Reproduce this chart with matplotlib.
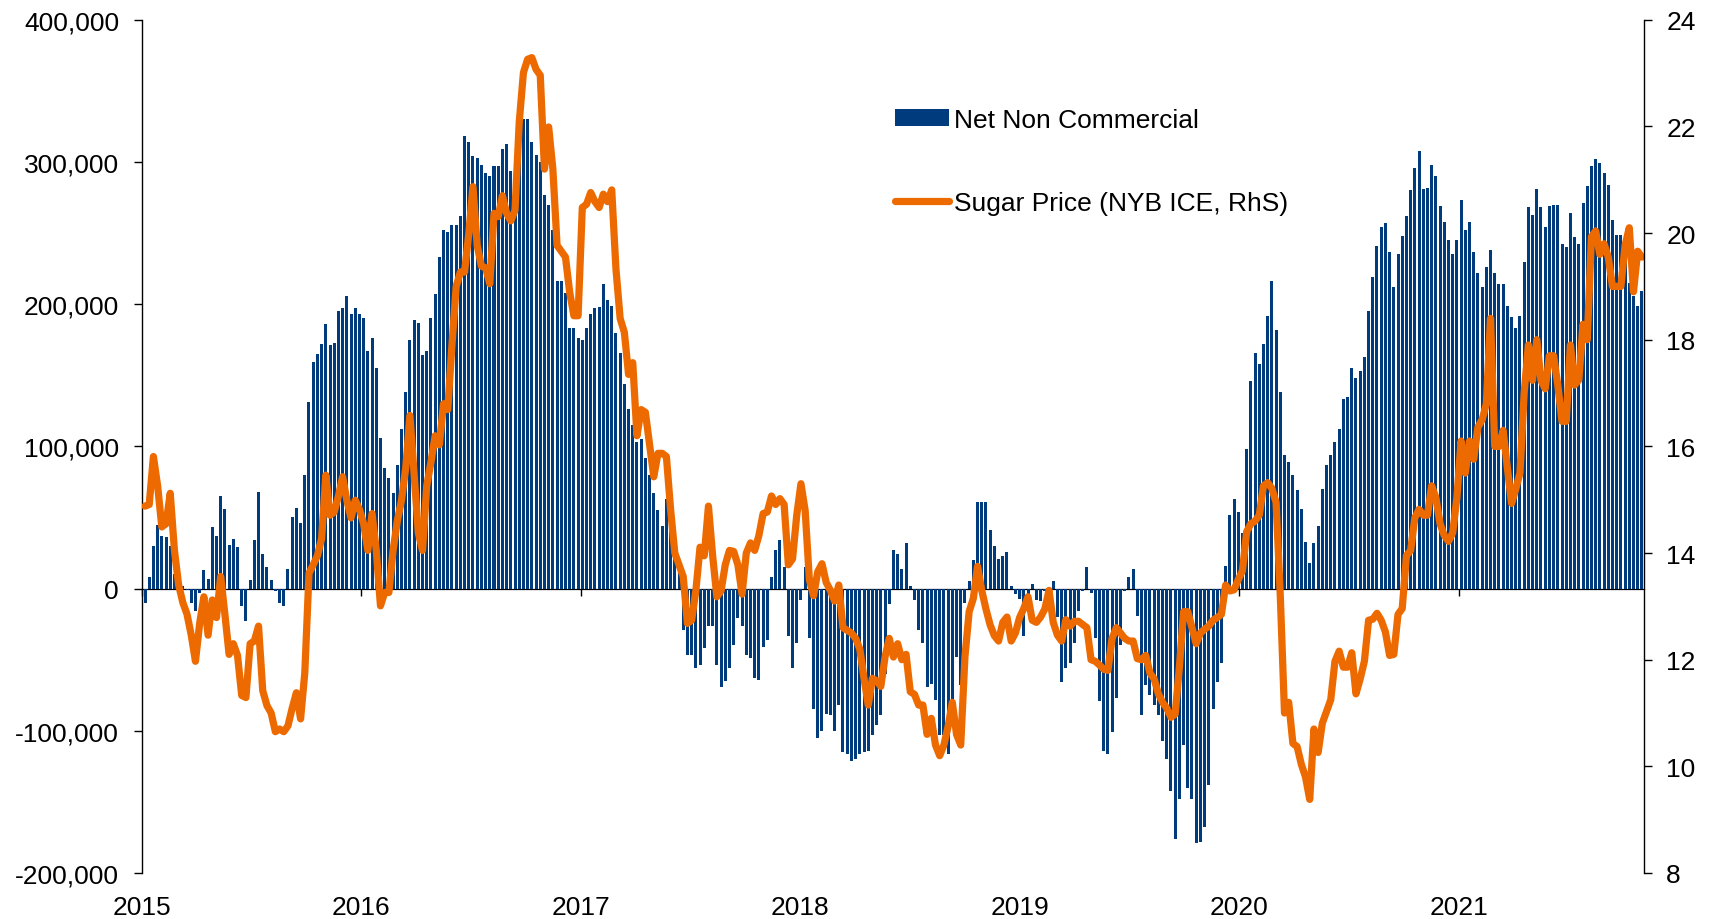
import pandas as pd
import matplotlib
matplotlib.use("Agg")
import matplotlib.pyplot as plt
from matplotlib.ticker import FuncFormatter

# ------------------------------
# Data (weekly)
# ------------------------------
first_week = "2015-01-06"

# net non commercial positions, thousands of contracts
net_2015 = [-10, 8, 30, 45, 37, 36, 30, 10, 3, 2, -1, -10, -16, -3, 13, 7, 43, 37, 65, 56,
            31, 35, 29, -12, -23, 6, 34, 68, 24, 15, 6, -2, -10, -12, 14, 50, 57, 46, 80, 131,
            159, 165, 172, 186, 171, 173, 195, 197, 206, 193, 197, 193]
net_2016 = [190, 167, 176, 155, 106, 85, 78, 67, 87, 112, 138, 175, 189, 187, 164, 167, 190, 207,
            233, 252, 251, 256, 256, 262, 318, 314, 304, 303, 298, 292, 290, 297, 297, 309, 313,
            294, 300, 320, 330, 330, 314, 305, 300, 277, 270, 252, 216, 216, 208]
net_2017 = [183, 183, 176, 175, 183, 193, 197, 198, 214, 203, 199, 180, 166, 144, 126, 115, 103,
            105, 92, 80, 67, 55, 44, 63, 41, 23, 11, -29, -47, -47, -56, -54, -42, -26, -26, -54,
            -69, -65, -56, -40, -21, -26, -47, -49, -63, -64, -41, -36, 8, 27, 34, 15, -33, -56, -38]
net_2018 = [-8, 15, -35, -85, -105, -100, -88, -89, -100, -82, -115, -116, -121, -120, -116, -115,
            -114, -103, -96, -89, -60, -11, 27, 24, 14, 32, 2, -8, -29, -38, -69, -67, -78, -103,
            -103, -116, -79, -48, -68, -10, 5, 20, 61, 61, 61, 41, 30, 21, 23, 26, 2, -4]
net_2019 = [-7, -33, -7, 3, -8, -9, -2, 0, 5, -20, -66, -56, -52, -38, -16, -2, 15, -3, -35, -79,
            -114, -116, -101, -77, -40, -2, 8, 14, -19, -89, -68, -75, -82, -89, -107, -120, -142,
            -176, -148, -110, -140, -148, -179, -178, -168, -138, -85, -66, -52, 16, 52, 63, 54]
net_2020 = [39, 98, 146, 166, 158, 172, 192, 216, 182, 138, 94, 89, 80, 69, 56, 33, 18, 32, 44, 70,
            87, 94, 103, 112, 133, 135, 155, 148, 153, 163, 195, 219, 241, 254, 257, 237, 212, 235,
            248, 262, 280, 296, 308, 281, 282, 298, 290, 269, 258, 245, 235, 245]
net_2021 = [273, 252, 258, 237, 222, 212, 226, 238, 222, 214, 214, 199, 191, 183, 192, 230, 268,
            263, 281, 268, 254, 269, 270, 270, 242, 240, 264, 247, 242, 271, 283, 297, 302, 299,
            292, 284, 259, 249, 249, 240, 215, 206, 199, 209]

# sugar price, US cents/lb
sugar_2015 = [14.88, 14.91, 15.81, 15.26, 14.49, 14.55, 15.12, 14.05, 13.40, 13.07, 12.85, 12.46,
              11.97, 12.68, 13.18, 12.46, 13.12, 12.79, 13.56, 12.85, 12.10, 12.30, 12.08, 11.33,
              11.29, 12.30, 12.35, 12.63, 11.42, 11.14, 11.00, 10.65, 10.70, 10.65, 10.76, 11.09,
              11.38, 10.89, 11.75, 13.62, 13.78, 13.95, 14.27, 15.46, 14.71, 14.77, 15.07, 15.43,
              14.99, 14.66, 14.99, 14.82]
sugar_2016 = [14.55, 14.05, 14.74, 14.05, 13.01, 13.26, 13.26, 14.05, 14.60, 14.99, 15.59, 16.58,
              15.48, 14.38, 14.05, 15.26, 15.70, 16.20, 16.03, 16.80, 16.69, 17.90, 19.00, 19.27,
              19.27, 19.99, 20.87, 19.77, 19.38, 19.35, 19.05, 20.37, 20.31, 20.70, 20.37, 20.23,
              20.43, 22.08, 23.01, 23.26, 23.29, 23.07, 22.96, 21.20, 21.99, 21.20, 19.77, 19.66,
              19.55]
sugar_2017 = [18.89, 18.45, 18.45, 20.48, 20.54, 20.76, 20.59, 20.48, 20.73, 20.59, 20.81, 19.33,
              18.40, 18.14, 17.35, 17.57, 16.20, 16.69, 16.64, 16.03, 15.43, 15.87, 15.87, 15.81,
              14.82, 14.00, 13.78, 13.56, 12.68, 12.74, 13.29, 14.11, 13.95, 14.88, 13.95, 13.18,
              13.29, 13.78, 14.05, 14.03, 13.78, 13.23, 14.00, 14.19, 14.05, 14.33, 14.74, 14.77,
              15.07, 14.91, 15.02, 14.91, 13.78, 13.89, 14.71]
sugar_2018 = [15.30, 14.80, 13.50, 13.20, 13.65, 13.80, 13.45, 13.30, 13.10, 13.40, 12.60, 12.55,
              12.50, 12.40, 12.20, 11.65, 11.15, 11.65, 11.60, 11.50, 12.05, 12.40, 12.05, 12.30,
              12.00, 12.10, 11.40, 11.35, 11.15, 11.15, 10.60, 10.90, 10.40, 10.20, 10.40, 10.75,
              11.20, 10.60, 10.40, 12.05, 12.90, 13.15, 13.75, 13.30, 12.95, 12.65, 12.45, 12.35,
              12.70, 12.80, 12.35, 12.50]
sugar_2019 = [12.79, 12.96, 13.18, 12.74, 12.70, 12.80, 12.95, 13.30, 12.70, 12.46, 12.35, 12.75,
              12.63, 12.72, 12.72, 12.66, 12.60, 12.00, 11.97, 11.90, 11.82, 11.80, 12.40, 12.60,
              12.50, 12.40, 12.35, 12.35, 12.02, 12.00, 12.08, 11.75, 11.64, 11.36, 11.20, 11.09,
              10.92, 10.98, 11.86, 12.90, 12.90, 12.60, 12.30, 12.50, 12.57, 12.63, 12.74, 12.79,
              12.85, 13.40, 13.29, 13.31, 13.50]
sugar_2020 = [13.67, 14.40, 14.55, 14.60, 14.71, 15.26, 15.32, 15.21, 14.95, 13.20, 11.00, 11.20,
              10.43, 10.37, 10.04, 9.80, 9.38, 10.70, 10.26, 10.81, 11.03, 11.25, 11.97, 12.16,
              11.86, 11.86, 12.13, 11.36, 11.64, 11.97, 12.74, 12.76, 12.87, 12.74, 12.52, 12.08,
              12.10, 12.85, 12.96, 13.95, 14.05, 14.66, 14.82, 14.71, 14.71, 15.26, 15.04, 14.55,
              14.33, 14.22, 14.38, 15.04]
sugar_2021 = [16.10, 15.50, 16.10, 15.76, 16.36, 16.50, 16.80, 18.40, 16.00, 16.00, 16.30, 15.60,
              14.93, 15.20, 15.50, 17.00, 17.90, 17.24, 18.00, 17.24, 17.08, 17.70, 17.70, 17.15,
              16.47, 16.47, 17.90, 17.15, 17.25, 18.29, 18.00, 19.93, 20.04, 19.60, 19.80, 19.55,
              19.00, 19.00, 19.00, 19.77, 20.10, 18.90, 19.66, 19.55]

year_labels = ["2015", "2016", "2017", "2018", "2019", "2020", "2021"]

net = [v * 1000 for v in net_2015 + net_2016 + net_2017 + net_2018 + net_2019 + net_2020 + net_2021]
sugar = sugar_2015 + sugar_2016 + sugar_2017 + sugar_2018 + sugar_2019 + sugar_2020 + sugar_2021
dates = pd.date_range(first_week, periods=len(net), freq="7D")
year_ticks = pd.to_datetime([y + "-01-01" for y in year_labels])

# ------------------------------
# Plot
# ------------------------------
plt.rcParams['font.family'] = ['Liberation Sans', 'DejaVu Sans']
plt.rcParams['font.size'] = 19

navy = '#003C7D'
orange = '#ED6A00'

fig = plt.figure(figsize=(17.15, 9.2), dpi=100)
ax = fig.add_axes([0.0828, 0.05, 0.8758, 0.9274])

bars = ax.bar(dates, net, width=5, color=navy, linewidth=0, label='Net Non Commercial')
ax.set_ylim(-200000, 400000)
ax.set_yticks(range(-200000, 400001, 100000))
ax.yaxis.set_major_formatter(FuncFormatter(lambda v, p: f"{int(v):,}"))
ax.set_xlim(pd.Timestamp("2015-01-01"), dates[-1] + pd.Timedelta(days=3.5))
ax.set_xticks(year_ticks)
ax.set_xticklabels(year_labels)
ax.tick_params(axis='x', length=0, pad=15.5)
ax.tick_params(axis='y', direction='out', length=5.5, width=1, pad=11)
for s in ['top', 'bottom', 'right']:
    ax.spines[s].set_visible(False)
ax.spines['left'].set_linewidth(1)

# zero line with year ticks
zero = ax.secondary_xaxis(0, transform=ax.transData)
zero.set_xticks(year_ticks)
zero.tick_params(axis='x', direction='out', length=5, width=1, labelbottom=False)
zero.spines['bottom'].set_linewidth(0.9)

ax2 = ax.twinx()
line, = ax2.plot(dates, sugar, color=orange, lw=5.2, solid_joinstyle='round',
                 solid_capstyle='round', label='Sugar Price (NYB ICE, RhS)')
ax2.set_ylim(8, 24)
ax2.set_yticks(range(8, 25, 2))
ax2.tick_params(axis='y', direction='out', length=5.5, width=1, pad=10.5)
for s in ['top', 'bottom', 'left']:
    ax2.spines[s].set_visible(False)
ax2.spines['right'].set_linewidth(1)

ax2.legend([bars, line], ['Net Non Commercial', 'Sugar Price (NYB ICE, RhS)'],
           loc='upper left', bbox_to_anchor=(0.5013, 0.897), frameon=False,
           borderpad=0, borderaxespad=0, handlelength=2.05, handleheight=0.6,
           handletextpad=0.2, labelspacing=2.24, fontsize=19)

plt.savefig("out.png", dpi=100)
